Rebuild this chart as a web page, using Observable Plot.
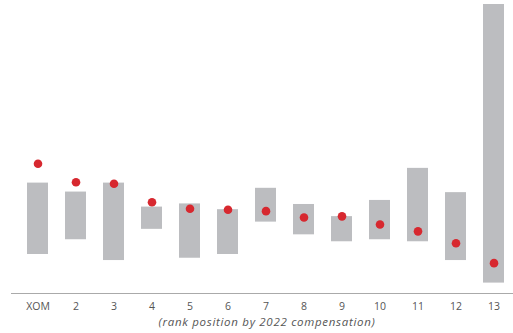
<!DOCTYPE html>
<html><head><meta charset="utf-8">
<script src="https://cdn.jsdelivr.net/npm/d3@7"></script>
<script src="https://cdn.jsdelivr.net/npm/@observablehq/plot@0.6"></script>
<style>
body{margin:0;background:#fff;}
#chart{width:513px;height:313px;}
.caption{font-family:"Open Sans",Lato,sans-serif;font-style:italic;font-size:11.5px;letter-spacing:0.7px;color:#555;text-align:center;width:513px;padding-left:21px;box-sizing:border-box;line-height:15px;margin-top:1px;}
</style></head><body>
<div id="chart"></div>
<div class="caption">(rank position by 2022 compensation)</div>
<script>
const ranks = ["XOM","2","3","4","5","6","7","8","9","10","11","12","13"];
const rangeLow  = [13.5, 18.6, 11.4, 22.2, 12.2, 13.5, 24.7, 20.3, 17.9, 18.6, 17.9, 11.4, 3.6];
const rangeHigh = [38.2, 35.1, 38.2, 29.9, 31.0, 29.0, 36.4, 30.8, 26.6, 32.2, 43.3, 34.9, 100];
const dotValue  = [44.9, 38.5, 38.0, 31.6, 29.3, 29.0, 28.5, 26.3, 26.7, 23.9, 21.5, 17.4, 10.5];
const data = ranks.map((r, i) => ({rank: r, low: rangeLow[i], high: rangeHigh[i], dot: dotValue[i]}));
const chart = Plot.plot({
  width: 513, height: 313,
  marginLeft: 11, marginRight: 0, marginTop: 4, marginBottom: 20,
  style: {fontFamily: "'Open Sans', Lato, sans-serif", fontSize: "10.5px", color: "#555", background: "#fff"},
  x: {domain: ranks, range: [21.3, 510.5], paddingInner: 0.45, paddingOuter: 0, align: 0.5},
  y: {domain: [0, 100], axis: null},
  marks: [
    Plot.barY(data, {x: "rank", y1: "low", y2: "high", fill: "#bcbdc0"}),
    Plot.dot(data, {x: "rank", y: "dot", r: 4.3, fill: "#d7282f"}),
    Plot.frame({anchor: "bottom", stroke: "#aaa"}),
    Plot.axisX({tickSize: 0, tickPadding: 9, label: null})
  ]
});
document.getElementById("chart").appendChild(chart);
</script>
</body></html>
